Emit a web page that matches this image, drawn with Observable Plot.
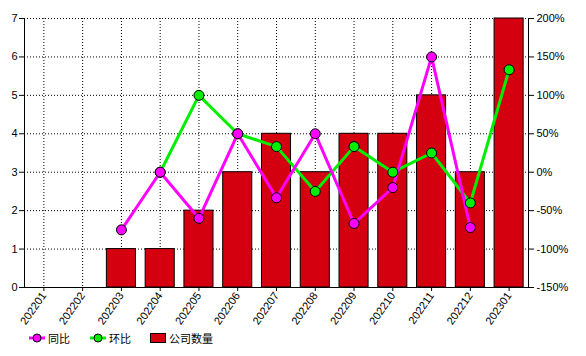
<!DOCTYPE html>
<html><head><meta charset="utf-8">
<script src="https://cdn.jsdelivr.net/npm/d3@7"></script>
<script src="https://cdn.jsdelivr.net/npm/@observablehq/plot@0.6"></script>
<style>
body{margin:0;background:#fff;font-family:"Liberation Sans",Arial,sans-serif;}
#chart svg{display:block;}
#legend{position:relative;height:20px;margin-top:2px;font-size:11px;color:#000;font-family:"Noto Sans CJK SC","Liberation Sans",sans-serif;}
#legend .it{position:absolute;top:0;display:flex;align-items:center;height:20px;}
</style></head><body>
<div id="chart"></div>
<div id="legend"></div>
<script>
const months = ["202201","202202","202203","202204","202205","202206","202207","202208","202209","202210","202211","202212","202301"];
const counts = [0,0,1,1,2,3,4,3,4,4,5,3,7];
const yoy = [null,null,-75,0,-60,50,-33.3,50,-66.7,-20,150,-72,null];
const mom = [null,null,null,0,100,50,33.3,-25,33.3,0,25,-40,133.3];
const leftTicks = [0,1,2,3,4,5,6,7];
const rightTicks = [-150,-100,-50,0,50,100,150,200];
const names = {yoy:"同比", mom:"环比", count:"公司数量"};
const colors = {yoy:"#ff00ff", mom:"#00ee00", count:"#d40010"};

const pct = p => (p + 150) / 50; // map % onto the left (count) scale
const rows = months.map((m,i)=>({month:m, count:counts[i], yoy:yoy[i]==null?NaN:pct(yoy[i]), mom:mom[i]==null?NaN:pct(mom[i])}));

const chart = Plot.plot({
  width:586, height:326,
  marginLeft:24, marginRight:58, marginTop:18, marginBottom:39,
  style:{fontSize:"11px", fontFamily:"'Liberation Sans',Arial,sans-serif", color:"#000", background:"#fff"},
  x:{domain:months, paddingInner:0.25, paddingOuter:0.125, round:false, axis:null, label:null},
  y:{domain:[0,7], axis:null, label:null},
  marks:[
    Plot.gridY(leftTicks.slice(1), {stroke:"#000", strokeOpacity:1, strokeDasharray:"1,2"}),
    Plot.gridX(months, {stroke:"#000", strokeOpacity:1, strokeDasharray:"1,2"}),
    Plot.barY(rows.filter(d=>d.count>0), {x:"month", y:"count", fill:colors.count, stroke:"#000", strokeWidth:1}),
    Plot.frame({anchor:"left", stroke:"#000"}),
    Plot.frame({anchor:"right", stroke:"#000"}),
    Plot.frame({anchor:"bottom", stroke:"#000"}),
    Plot.line(rows, {x:"month", y:"mom", stroke:colors.mom, strokeWidth:3}),
    Plot.line(rows, {x:"month", y:"yoy", stroke:colors.yoy, strokeWidth:3}),
    Plot.dot(rows.filter(d=>!isNaN(d.mom)), {x:"month", y:"mom", r:5, fill:colors.mom, stroke:"#000", strokeWidth:1}),
    Plot.dot(rows.filter(d=>!isNaN(d.yoy)), {x:"month", y:"yoy", r:5, fill:colors.yoy, stroke:"#000", strokeWidth:1}),
    Plot.axisY(leftTicks, {anchor:"left", tickSize:5, tickPadding:2, tickFormat:d=>String(d), label:null}),
    Plot.axisY(rightTicks.map(pct), {anchor:"right", tickSize:5, tickPadding:3, tickFormat:d=>Math.round(d*50-150)+"%", label:null}),
    Plot.axisX(months, {anchor:"bottom", tickSize:4, tickRotate:-55, tickPadding:2, label:null})
  ]
});
document.getElementById("chart").appendChild(chart);

const leg = document.getElementById("legend");
const item = (html, label, left) => {
  const d = document.createElement("div"); d.className="it"; d.style.left=left+"px";
  d.innerHTML = html + `<span style="margin-left:3px">${label}</span>`; leg.appendChild(d);
};
const lineSw = c => `<svg width="16" height="10"><line x1="0" y1="5" x2="16" y2="5" stroke="${c}" stroke-width="3"/><circle cx="8" cy="5" r="4" fill="${c}" stroke="#000"/></svg>`;
item(lineSw(colors.yoy), names.yoy, 29);
item(lineSw(colors.mom), names.mom, 90);
item(`<svg width="16" height="10"><rect x="0.5" y="0.5" width="15" height="9" fill="${colors.count}" stroke="#000"/></svg>`, names.count, 150);
</script>
</body></html>
